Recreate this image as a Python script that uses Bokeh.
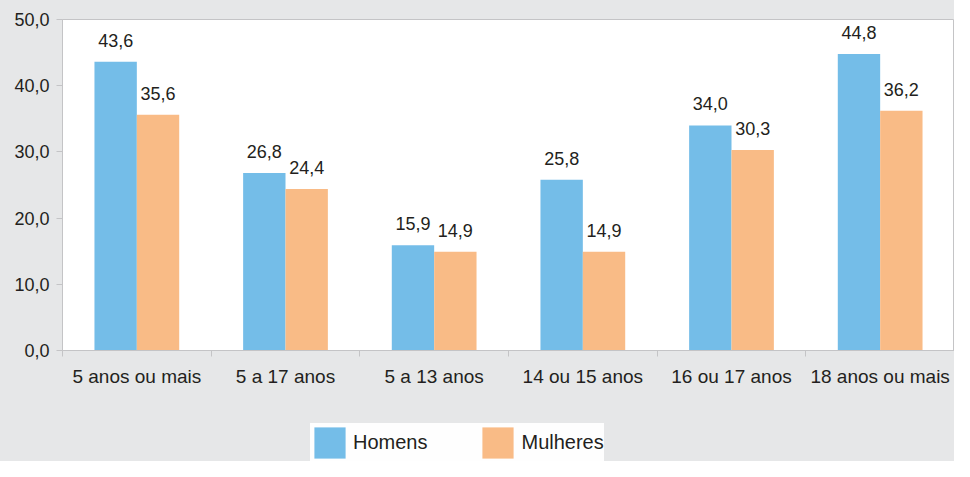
import numpy as np
from bokeh.plotting import figure
from bokeh.layouts import column
from bokeh.models import (Range1d, FixedTicker, CustomJSTickFormatter, Legend, LegendItem,
                          ColumnDataSource, LabelSet)
from bokeh.core.properties import value
from bokeh.embed import file_html
from bokeh.resources import INLINE

categories = ["5 anos ou mais", "5 a 17 anos", "5 a 13 anos", "14 ou 15 anos", "16 ou 17 anos", "18 anos ou mais"]
homens = [43.6, 26.8, 15.9, 25.8, 34.0, 44.8]
mulheres = [35.6, 24.4, 14.9, 14.9, 30.3, 36.2]
series_names = ["Homens", "Mulheres"]
y_ticks = [0, 10, 20, 30, 40, 50]

BLUE = "#74BDE8"
ORANGE = "#F9BB86"
BG = "#E6E7E8"
TXT = "#231F20"
AXIS = "#C4C4C6"
FONT = "Liberation Sans"

n = len(categories)
centers = np.arange(n) + 0.5
off = 0.1425
bw = 0.285

fmt = lambda v: f"{v:.1f}".replace(".", ",")
src_h = ColumnDataSource(dict(x=centers - off, y=homens, lab=[fmt(v) for v in homens]))
src_m = ColumnDataSource(dict(x=centers + off, y=mulheres, lab=[fmt(v) for v in mulheres]))

p = figure(width=954, height=417, output_backend="svg", toolbar_location=None,
           x_range=Range1d(0, n), y_range=Range1d(0, 50),
           min_border_left=62, min_border_right=0, min_border_top=19, min_border_bottom=67)
p.border_fill_color = BG
p.background_fill_color = "white"
p.outline_line_color = AXIS
p.grid.visible = False

p.vbar(x="x", top="y", width=bw, source=src_h, fill_color=BLUE, line_color=None)
p.vbar(x="x", top="y", width=bw, source=src_m, fill_color=ORANGE, line_color=None)

for src in (src_h, src_m):
    p.add_layout(LabelSet(x="x", y="y", text="lab", source=src, text_align="center",
                          text_baseline="alphabetic", y_offset=15, text_font=value(FONT),
                          text_font_size="18px", text_color=TXT))

# y axis
p.yaxis.ticker = FixedTicker(ticks=y_ticks)
p.yaxis.formatter = CustomJSTickFormatter(code="return tick.toFixed(1).replace('.', ',');")
p.yaxis.axis_line_color = AXIS
p.yaxis.major_tick_line_color = AXIS
p.yaxis.major_tick_in = 0
p.yaxis.major_tick_out = 6
p.yaxis.minor_tick_line_color = None
p.yaxis.major_label_text_font = FONT
p.yaxis.major_label_text_font_size = "18px"
p.yaxis.major_label_text_color = TXT
p.yaxis.major_label_standoff = 7

# x axis: labels at centers, ticks at boundaries
p.xaxis.ticker = FixedTicker(ticks=list(centers), minor_ticks=list(range(n + 1)))
p.xaxis.major_label_overrides = {float(c): cat for c, cat in zip(centers, categories)}
p.xaxis.axis_line_color = AXIS
p.xaxis.major_tick_line_color = None
p.xaxis.major_tick_in = 0
p.xaxis.major_tick_out = 6
p.xaxis.minor_tick_line_color = AXIS
p.xaxis.minor_tick_in = 0
p.xaxis.minor_tick_out = 6
p.xaxis.major_label_text_font = FONT
p.xaxis.major_label_text_font_size = "19px"
p.xaxis.major_label_text_color = TXT
p.xaxis.major_label_standoff = 9

# legend strip below the chart (its series renderers sit outside its view)
p2 = figure(width=954, height=44, output_backend="svg", toolbar_location=None,
            x_range=Range1d(100, 101), y_range=Range1d(100, 101),
            min_border_left=0, min_border_right=0, min_border_top=0, min_border_bottom=0,
            x_axis_type=None, y_axis_type=None)
p2.border_fill_color = BG
p2.background_fill_alpha = 0
p2.outline_line_color = None
p2.grid.visible = False
lh = p2.vbar(x="x", top="y", width=bw, source=src_h, fill_color=BLUE, line_color=None)
lm = p2.vbar(x="x", top="y", width=bw, source=src_m, fill_color=ORANGE, line_color=None)

legend = Legend(items=[LegendItem(label=series_names[0], renderers=[lh]),
                       LegendItem(label=series_names[1], renderers=[lm])],
                orientation="horizontal", location=(248, -1),
                glyph_width=39, glyph_height=39, label_standoff=4, spacing=51,
                padding=8, margin=0, background_fill_color="white", border_line_color=None,
                label_text_font=FONT, label_text_font_size="20px", label_text_color=TXT)
p2.add_layout(legend, "center")

layout = column(p, p2, spacing=0, styles={"background-color": BG})
open("out.html", "w").write(file_html(layout, INLINE))
